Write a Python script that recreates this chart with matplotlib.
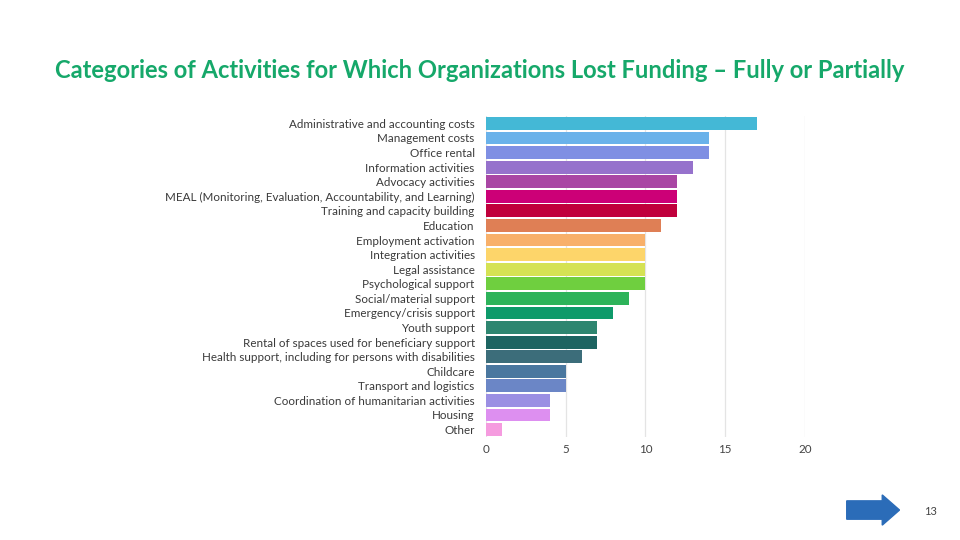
# -*- coding: UTF-8 -*-

"""Categories of activities for which organizations lost funding
"""

import matplotlib.pyplot as plt
from matplotlib.patches import FancyArrow

#+++++++++++++++++++++++++++++++++++++++++++++++++++++++++++++++++++++++++++++#

CATEGORIES = [
    'Administrative and accounting costs',
    'Management costs',
    'Office rental',
    'Information activities',
    'Advocacy activities',
    'MEAL (Monitoring, Evaluation, Accountability, and Learning)',
    'Training and capacity building',
    'Education',
    'Employment activation',
    'Integration activities',
    'Legal assistance',
    'Psychological support',
    'Social/material support',
    'Emergency/crisis support',
    'Youth support',
    'Rental of spaces used for beneficiary support',
    'Health support, including for persons with disabilities',
    'Childcare',
    'Transport and logistics',
    'Coordination of humanitarian activities',
    'Housing',
    'Other',
]

COUNTS = [ 17, 14, 14, 13, 12, 12, 12, 11, 10, 10, 10, 10, 9, 8, 7, 7, 6, 5, 5, 4, 4, 1 ]

COLORS = [
    '#44b8d6', '#6ab2ea', '#7f8fe3', '#9672cc', '#a946a4', '#cc0077',
    '#c0003c', '#df7f55', '#f8b06a', '#fdd56a', '#d5e254', '#6fcf3f',
    '#2db35a', '#0e9a6a', '#2e8670', '#1d6461', '#3c6d7a', '#4a779f',
    '#6b86c6', '#9b8fe3', '#dd8ff0', '#f59bdf',
]

TICKS = [ 0, 5, 10, 15, 20 ]

TITLE = 'Categories of Activities for Which Organizations Lost Funding \u2013 Fully or Partially'

#+++++++++++++++++++++++++++++++++++++++++++++++++++++++++++++++++++++++++++++#

plt.rcParams['font.family'] = [ 'Lato', 'DejaVu Sans' ]

fig = plt.figure( figsize = ( 9.6, 5.4 ), dpi = 100 )

fig.text( 0.5, 0.869, TITLE, ha = 'center', va = 'center',
          fontsize = 17.1, fontweight = 'bold', color = '#16a86a' )

ax = fig.add_axes( [ 0.506, 0.191, 0.3325, 0.594 ] )

pos = list( range( len( CATEGORIES ) ) )
ax.barh( pos, COUNTS, height = 0.88, color = COLORS, zorder = 3 )

ax.set_ylim( len( CATEGORIES ) - 0.5, -0.5 )
ax.set_xlim( 0, 20 )
ax.set_xticks( TICKS )
ax.set_yticks( pos )
ax.set_yticklabels( CATEGORIES, fontsize = 8.4, color = '#3a3a3a' )
ax.tick_params( axis = 'x', labelsize = 8.4, labelcolor = '#444444', length = 0, pad = 5 )
ax.tick_params( axis = 'y', length = 0, pad = 8 )

ax.grid( axis = 'x', color = '#e4e4e4', linewidth = 0.9, zorder = 0 )
for spine in ax.spines.values( ):
    spine.set_visible( False )

# navigation arrow and page number
arrow = FancyArrow( 0.882, 0.0555, 0.055, 0.0, width = 0.034, head_width = 0.056,
                    head_length = 0.018, length_includes_head = True,
                    transform = fig.transFigure, color = '#2b6cb8' )
fig.add_artist( arrow )
fig.text( 0.969, 0.053, '13', ha = 'center', va = 'center', fontsize = 8, color = '#444444' )

fig.savefig( 'out.png', dpi = 100 )

#+++++++++++++++++++++++++++++++++++++++++++++++++++++++++++++++++++++++++++++#
